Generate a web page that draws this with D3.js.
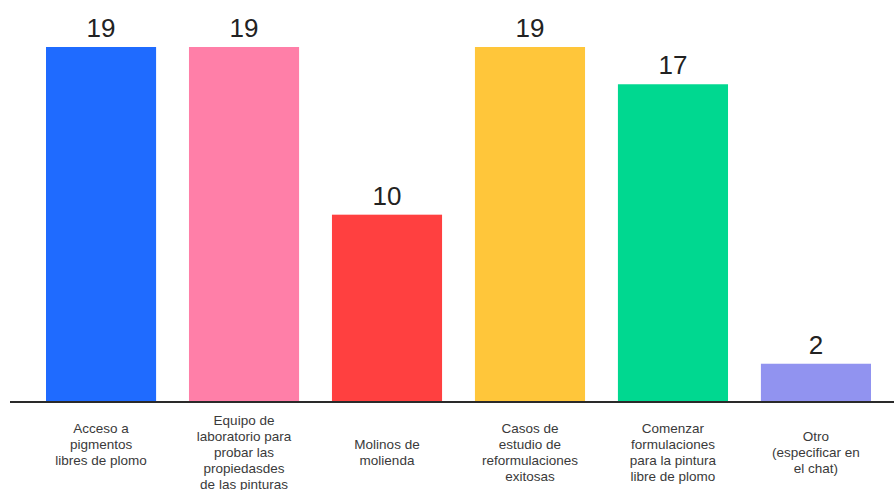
<!DOCTYPE html>
<html>
<head>
<meta charset="utf-8">
<script src="https://cdn.jsdelivr.net/npm/d3@7"></script>
<style>
html,body{margin:0;padding:0;background:#fff;}
svg{display:block;}
</style>
</head>
<body>
<svg id="chart" width="894" height="490"></svg>
<script>
const categories = [
  ["Acceso a", "pigmentos", "libres de plomo", ""],
  ["Equipo de", "laboratorio para", "probar las", "propiedasdes", "de las pinturas"],
  ["Molinos de", "molienda"],
  ["Casos de", "estudio de", "reformulaciones", "exitosas"],
  ["Comenzar", "formulaciones", "para la pintura", "libre de plomo"],
  ["Otro", "(especificar en", "el chat)"]
];
const values = [19, 19, 10, 19, 17, 2];
const colors = ["#1f6bff", "#ff7fa8", "#ff4040", "#ffc63a", "#00d890", "#9193f0"];

const svg = d3.select("#chart");
const idx = d3.range(values.length);

const x = d3.scaleBand().domain(idx).range([46, 871]).paddingInner(0.23).paddingOuter(0);
const y = d3.scaleLinear().domain([0, 19]).range([401, 47]);

svg.selectAll("rect.bar").data(idx).join("rect")
  .attr("class", "bar")
  .attr("x", i => x(i))
  .attr("width", x.bandwidth())
  .attr("y", i => y(values[i]))
  .attr("height", i => y(0) - y(values[i]))
  .attr("fill", i => colors[i]);

svg.selectAll("text.val").data(idx).join("text")
  .attr("class", "val")
  .attr("x", i => x(i) + x.bandwidth() / 2)
  .attr("y", i => y(values[i]) - 10)
  .attr("text-anchor", "middle")
  .attr("font-family", "Liberation Sans, Arial, sans-serif")
  .attr("font-size", 26)
  .attr("fill", "#222")
  .text(i => values[i]);

// baseline axis
svg.append("line")
  .attr("x1", 10).attr("x2", 894)
  .attr("y1", y(0) + 1).attr("y2", y(0) + 1)
  .attr("stroke", "#2a2a2a").attr("stroke-width", 2);

const lh = 16, center = 452;
const lab = svg.selectAll("text.cat").data(idx).join("text")
  .attr("class", "cat")
  .attr("text-anchor", "middle")
  .attr("font-family", "Liberation Sans, Arial, sans-serif")
  .attr("font-size", 13.5)
  .attr("fill", "#3a3a3a");
lab.each(function(i) {
  const lines = categories[i];
  const t = d3.select(this);
  const top = center - (lines.length - 1) * lh / 2;
  lines.forEach((l, k) => {
    t.append("tspan")
      .attr("x", x(i) + x.bandwidth() / 2)
      .attr("y", top + k * lh + 5)
      .text(l);
  });
});
</script>
</body>
</html>
